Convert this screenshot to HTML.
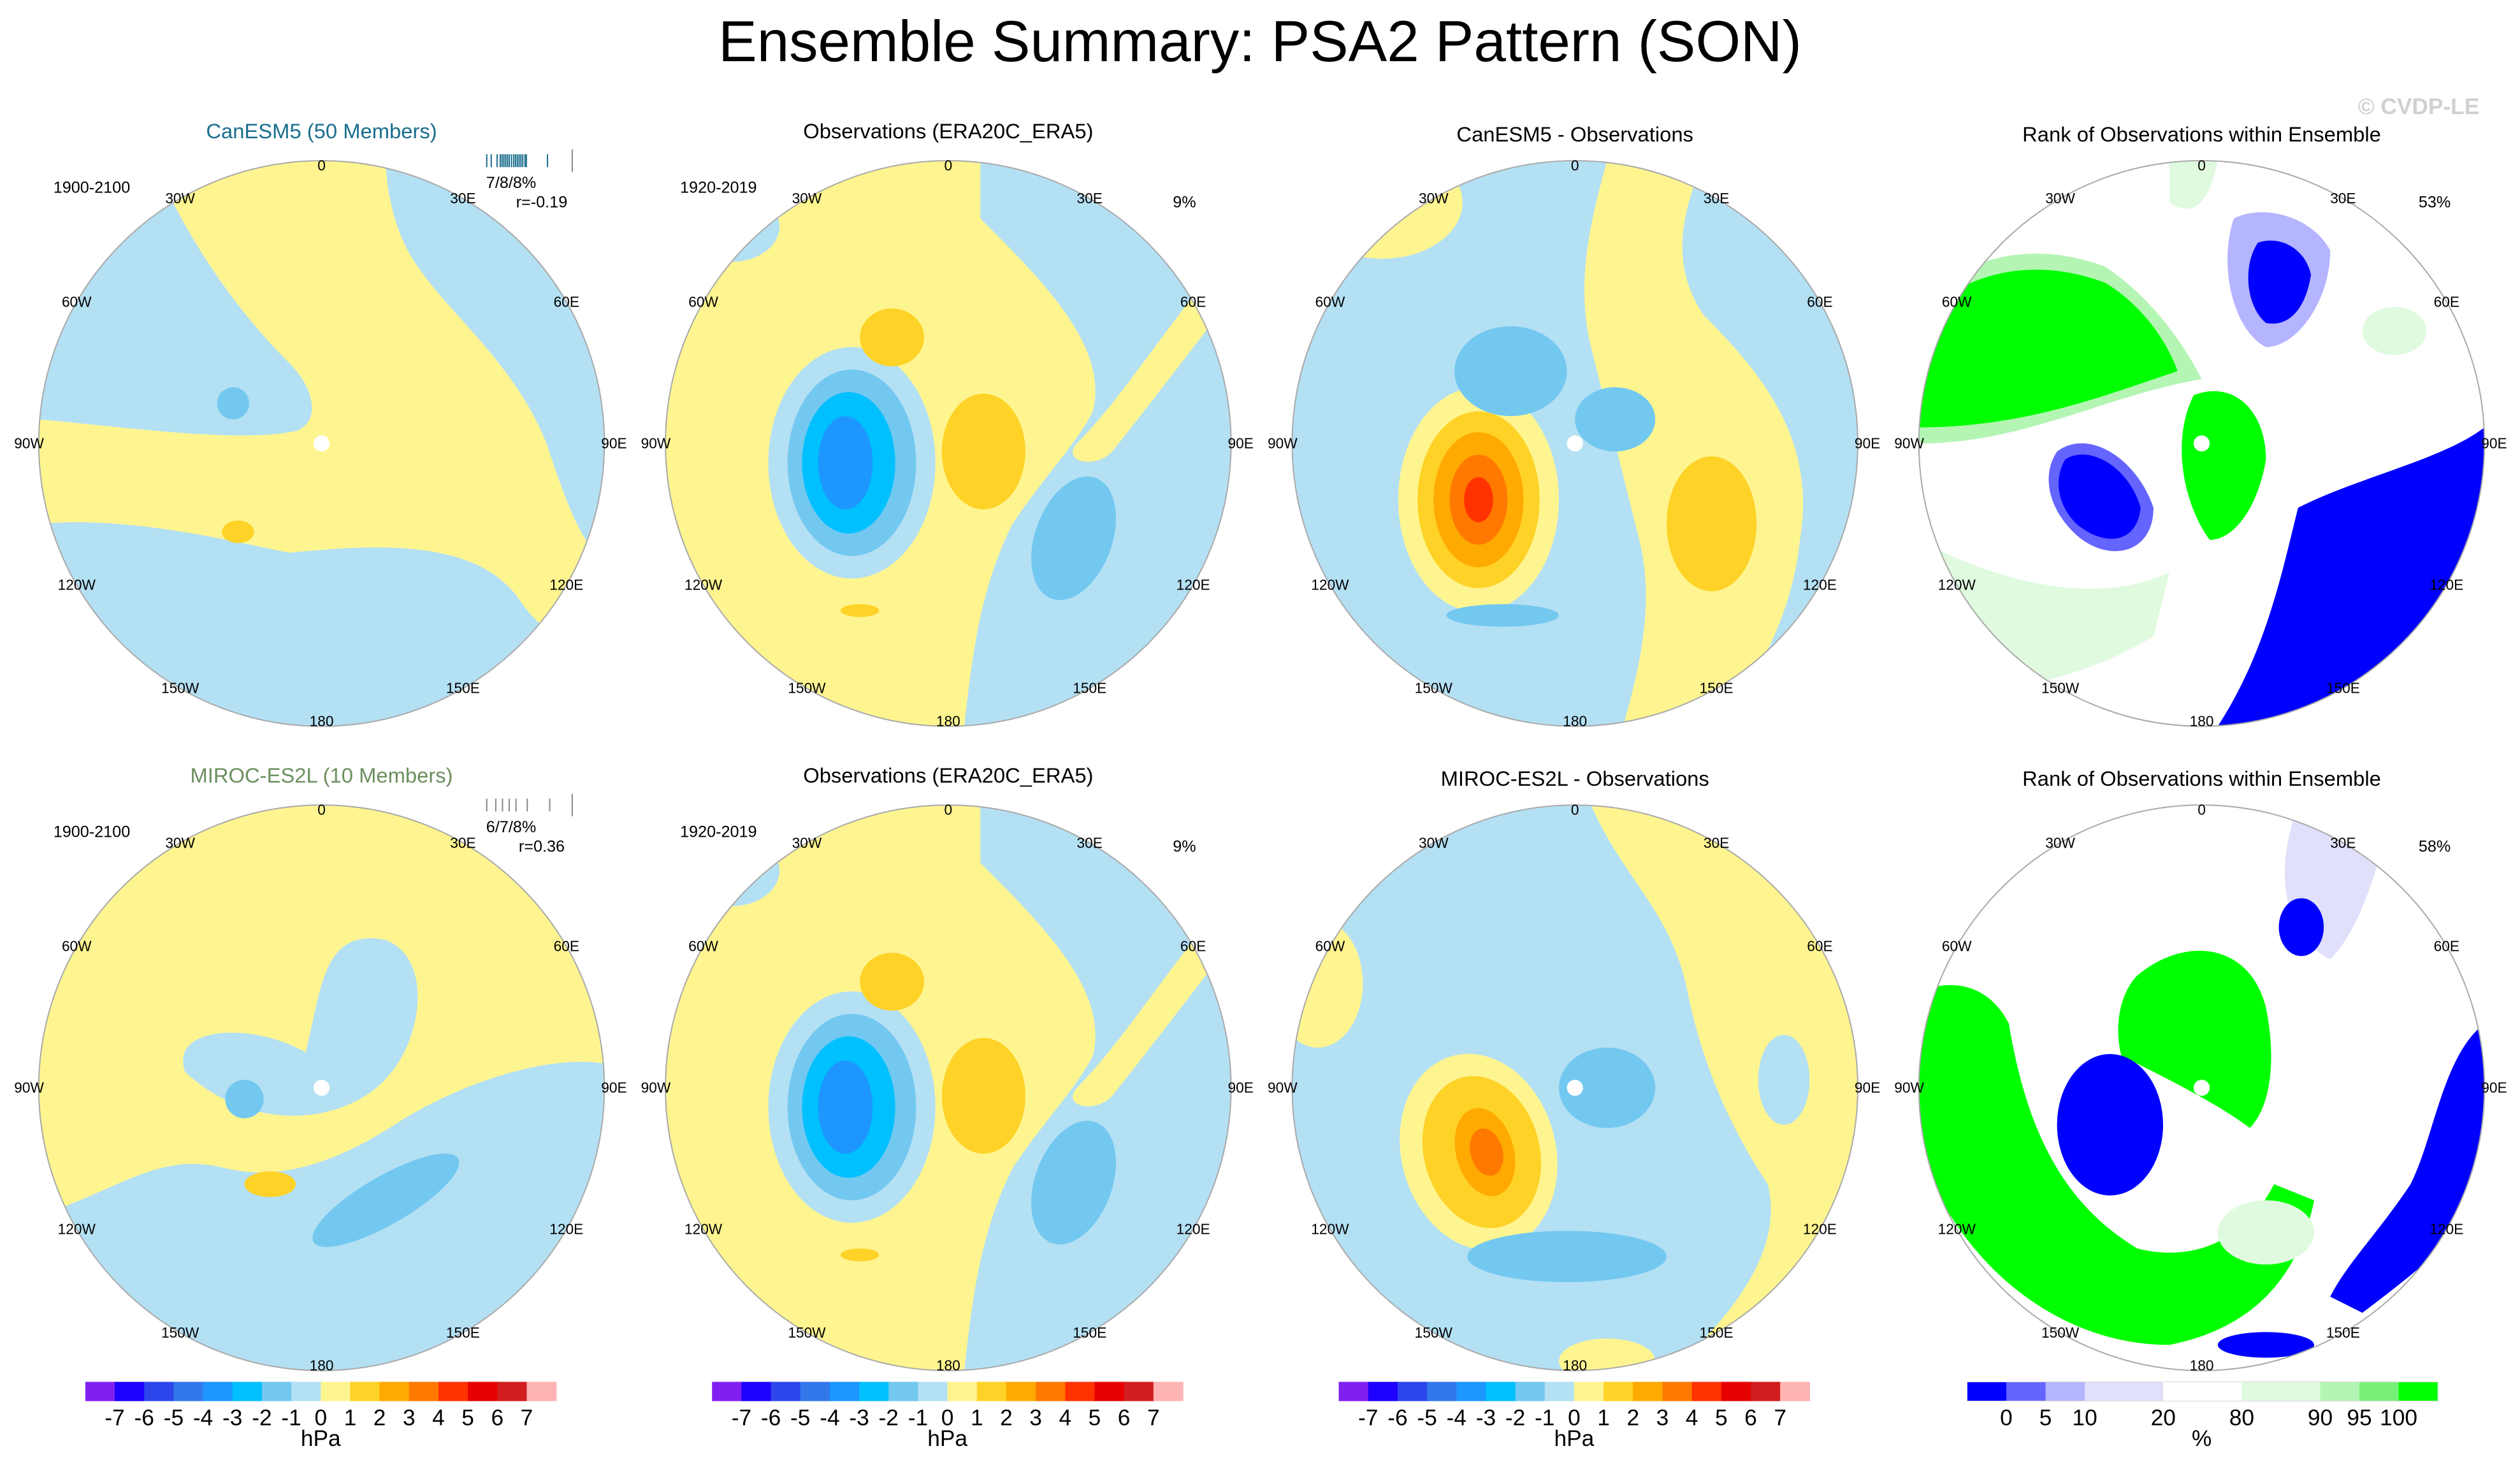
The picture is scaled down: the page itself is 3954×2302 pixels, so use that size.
<!DOCTYPE html>
<html><head><meta charset="utf-8"><style>
html,body{margin:0;padding:0;background:#fff}
svg{display:block;font-family:"Liberation Sans",sans-serif}
</style></head><body>
<svg id="fig" width="3954" height="2302" viewBox="0 0 1568 913" xmlns="http://www.w3.org/2000/svg">
<defs>
<clipPath id="cc"><circle cx="0" cy="0" r="176"/></clipPath>
</defs>
<rect width="1568" height="913" fill="#fff"/>
<text x="784" y="38" font-size="36" text-anchor="middle">Ensemble Summary: PSA2 Pattern (SON)</text>
<text x="1505" y="71" font-size="14" fill="#d0d0d0" text-anchor="middle" font-weight="bold">© CVDP-LE</text>

<!-- Panel 1 CanESM5 -->
<g transform="translate(200,276)">
<g clip-path="url(#cc)">
<rect x="-176" y="-176" width="352" height="352" fill="#fff590"/>
<path fill="#b4e0f4" d="M-176,-176 H-105 C-80,-120 -50,-80 -20,-50 C-5,-35 0,-15 -15,-8 C-50,0 -120,-10 -176,-15 Z"/>
<path fill="#b4e0f4" d="M40,-176 H176 V75 C160,60 150,30 140,0 C120,-50 80,-80 60,-110 C45,-130 40,-160 40,-176 Z"/>
<path fill="#b4e0f4" d="M-176,50 C-120,45 -60,60 -20,68 C40,62 100,60 125,100 C140,120 150,125 176,95 V176 H-176 Z"/>
<ellipse cx="-55" cy="-25" rx="10" ry="10" fill="#73c8f0"/>
<ellipse cx="-52" cy="55" rx="10" ry="7" fill="#ffd228"/>
</g>
<circle r="176" fill="none" stroke="#aaa" stroke-width="0.8"/>
<circle r="5" fill="#fff"/>
</g>

<!-- Panel 2 obs -->
<g transform="translate(590,276)">
<g clip-path="url(#cc)" id="obs1">
<rect x="-176" y="-176" width="352" height="352" fill="#fff590"/>
<path fill="#b4e0f4" d="M20,-176 H176 V176 H10 C15,130 20,90 40,50 C60,20 80,0 90,-20 C100,-60 60,-100 20,-140 Z"/>
<path fill="#fff590" d="M176,-120 C140,-80 110,-30 80,0 C70,12 92,16 102,5 C130,-30 160,-70 176,-90 Z"/>
<ellipse cx="-135" cy="-135" rx="30" ry="22" fill="#b4e0f4"/>
<ellipse cx="-60" cy="12" rx="52" ry="72" fill="#b4e0f4"/>
<ellipse cx="-60" cy="12" rx="40" ry="58" fill="#73c8f0"/>
<ellipse cx="-62" cy="12" rx="29" ry="44" fill="#00c0ff"/>
<ellipse cx="-64" cy="12" rx="17" ry="29" fill="#1e96ff"/>
<ellipse cx="-35" cy="-66" rx="20" ry="18" fill="#ffd228"/>
<ellipse cx="22" cy="5" rx="26" ry="36" fill="#ffd228"/>
<ellipse cx="-55" cy="104" rx="12" ry="4" fill="#ffd228"/>
<ellipse cx="78" cy="59" rx="24" ry="40" transform="rotate(20 78 59)" fill="#73c8f0"/>
</g>
<circle r="176" fill="none" stroke="#aaa" stroke-width="0.8"/>
</g>

<!-- Panel 3 diff -->
<g transform="translate(980,276)">
<g clip-path="url(#cc)">
<rect x="-176" y="-176" width="352" height="352" fill="#b4e0f4"/>
<ellipse cx="-120" cy="-150" rx="50" ry="35" fill="#fff590"/>
<path fill="#fff590" d="M20,-176 H80 C65,-140 60,-110 80,-80 C120,-40 150,0 140,60 C135,110 110,150 90,176 H30 C40,140 50,100 40,60 C30,20 20,-20 10,-60 C0,-100 10,-140 20,-176 Z"/>
<ellipse cx="-60" cy="35" rx="50" ry="70" fill="#fff590"/>
<ellipse cx="-60" cy="35" rx="38" ry="55" fill="#ffd228"/>
<ellipse cx="-60" cy="35" rx="28" ry="42" fill="#ffaa00"/>
<ellipse cx="-60" cy="35" rx="18" ry="28" fill="#ff7800"/>
<ellipse cx="-60" cy="35" rx="9" ry="14" fill="#ff3200"/>
<ellipse cx="-40" cy="-45" rx="35" ry="28" fill="#73c8f0"/>
<ellipse cx="25" cy="-15" rx="25" ry="20" fill="#73c8f0"/>
<ellipse cx="-45" cy="107" rx="35" ry="7" fill="#73c8f0"/>
<ellipse cx="85" cy="50" rx="28" ry="42" fill="#ffd228"/>
</g>
<circle r="176" fill="none" stroke="#aaa" stroke-width="0.8"/>
<circle r="5" fill="#fff"/>
</g>

<!-- Panel 4 rank -->
<g transform="translate(1370,276)">
<g clip-path="url(#cc)">
<rect x="-176" y="-176" width="352" height="352" fill="#fff"/>
<path fill="#b4f5b4" d="M-176,-90 C-140,-120 -100,-125 -60,-110 C-30,-90 -10,-60 0,-40 C-60,-30 -110,0 -176,0 Z"/>
<path fill="#00ff00" d="M-176,-80 C-140,-110 -100,-115 -60,-100 C-35,-85 -20,-60 -15,-45 C-60,-30 -110,-10 -176,-10 Z"/>
<path fill="#00ff00" d="M-5,-30 C20,-40 40,-20 40,10 C35,40 20,60 5,60 C-10,40 -20,0 -5,-30 Z"/>
<path fill="#e0fae0" d="M-176,60 C-120,90 -60,100 -20,80 L-30,120 C-80,150 -140,160 -176,150 Z"/>
<path fill="#00ff00" d="M-176,90 C-150,120 -120,140 -100,155 L-110,176 H-176 Z"/>
<path fill="#6464ff" d="M-90,5 C-70,-10 -40,10 -30,40 C-30,70 -60,75 -80,55 C-95,40 -100,20 -90,5 Z"/>
<path fill="#0000ff" d="M-85,10 C-70,0 -45,15 -38,40 C-40,62 -60,65 -78,50 C-90,38 -92,22 -85,10 Z"/>
<path fill="#b4b4ff" d="M20,-140 C40,-150 70,-140 80,-120 C80,-90 60,-60 40,-60 C20,-70 10,-110 20,-140 Z"/>
<path fill="#0000ff" d="M35,-125 C50,-130 65,-120 68,-105 C65,-85 55,-72 40,-75 C28,-85 25,-110 35,-125 Z"/>
<path fill="#0000ff" d="M176,-10 C150,10 100,20 60,40 C50,80 40,130 10,176 H176 Z"/>
<path fill="#e0fae0" d="M-20,-176 H10 C5,-150 -5,-140 -20,-150 Z"/>
<ellipse cx="120" cy="-70" rx="20" ry="15" fill="#e0fae0"/>
</g>
<circle r="176" fill="none" stroke="#aaa" stroke-width="0.8"/>
<circle r="5" fill="#fff"/>
</g>

<!-- Panel 5 MIROC -->
<g transform="translate(200,677)">
<g clip-path="url(#cc)">
<rect x="-176" y="-176" width="352" height="352" fill="#fff590"/>
<path fill="#b4e0f4" d="M-176,80 C-120,60 -100,40 -60,50 C-20,60 20,40 50,20 C100,-10 150,-20 176,-15 V176 H-176 Z"/>
<path fill="#b4e0f4" d="M-85,-10 C-95,-40 -40,-40 -10,-22 C0,-60 0,-100 40,-92 C70,-80 62,-30 42,-8 C20,20 -40,32 -85,-10 Z"/>
<circle cx="-48" cy="7" r="12" fill="#73c8f0"/>
<ellipse cx="40" cy="70" rx="52" ry="15" transform="rotate(-30 40 70)" fill="#73c8f0"/>
<ellipse cx="-32" cy="60" rx="16" ry="8" fill="#ffd228"/>
</g>
<circle r="176" fill="none" stroke="#aaa" stroke-width="0.8"/>
<circle r="5" fill="#fff"/>
</g>

<!-- Panel 6 obs -->
<g transform="translate(590,677)">
<use href="#obs1"/>
<circle r="176" fill="none" stroke="#aaa" stroke-width="0.8"/>
</g>

<!-- Panel 7 diff -->
<g transform="translate(980,677)">
<g clip-path="url(#cc)">
<rect x="-176" y="-176" width="352" height="352" fill="#b4e0f4"/>
<path fill="#fff590" d="M10,-176 H176 V176 H60 C100,140 130,100 120,60 C100,30 80,-10 70,-60 C60,-110 30,-130 10,-176 Z"/>
<ellipse cx="-160" cy="-65" rx="28" ry="40" fill="#fff590"/>
<ellipse cx="130" cy="-5" rx="16" ry="28" fill="#b4e0f4"/>
<ellipse cx="20" cy="170" rx="30" ry="14" fill="#fff590"/>
<ellipse cx="-60" cy="40" rx="48" ry="62" transform="rotate(-15 -60 40)" fill="#fff590"/>
<ellipse cx="-58" cy="40" rx="36" ry="48" transform="rotate(-15 -58 40)" fill="#ffd228"/>
<ellipse cx="-56" cy="40" rx="18" ry="28" transform="rotate(-15 -56 40)" fill="#ffaa00"/>
<ellipse cx="-55" cy="40" rx="10" ry="15" transform="rotate(-15 -55 40)" fill="#ff7800"/>
<ellipse cx="20" cy="0" rx="30" ry="25" fill="#73c8f0"/>
<ellipse cx="-5" cy="105" rx="62" ry="16" fill="#73c8f0"/>
</g>
<circle r="176" fill="none" stroke="#aaa" stroke-width="0.8"/>
<circle r="5" fill="#fff"/>
</g>

<!-- Panel 8 rank -->
<g transform="translate(1370,677)">
<g clip-path="url(#cc)">
<rect x="-176" y="-176" width="352" height="352" fill="#fff"/>
<path fill="#00ff00" d="M-176,-60 C-150,-70 -130,-60 -120,-40 C-110,20 -90,70 -40,100 C0,110 30,90 45,60 L70,70 C60,120 30,150 -20,160 C-90,160 -150,110 -176,40 Z"/>
<path fill="#00ff00" d="M-40,-70 C-10,-95 30,-90 40,-50 C48,-10 40,15 30,25 C10,10 -20,-5 -50,-20 C-55,-40 -50,-60 -40,-70 Z"/>
<ellipse cx="-57" cy="23" rx="33" ry="44" fill="#0000ff"/>
<path fill="#e0e0fa" d="M60,-176 H120 C110,-140 100,-100 80,-80 C60,-90 40,-120 60,-176 Z"/>
<ellipse cx="62" cy="-100" rx="14" ry="18" fill="#0000ff"/>
<path fill="#0000ff" d="M176,-40 C150,-20 145,30 130,60 C110,90 90,110 80,130 L100,140 C140,110 176,80 176,60 Z"/>
<ellipse cx="40" cy="160" rx="30" ry="8" fill="#0000ff"/>
<ellipse cx="40" cy="90" rx="30" ry="20" fill="#e0fae0"/>
</g>
<circle r="176" fill="none" stroke="#aaa" stroke-width="0.8"/>
<circle r="5" fill="#fff"/>
</g>

<g id="texts" font-size="10" fill="#000">
<text x="200" y="86" font-size="13" fill="#1a6e8e" text-anchor="middle">CanESM5 (50 Members)</text>
<text x="590" y="86" font-size="13" text-anchor="middle">Observations (ERA20C_ERA5)</text>
<text x="980" y="88" font-size="13" text-anchor="middle">CanESM5 - Observations</text>
<text x="1370" y="88" font-size="13" text-anchor="middle">Rank of Observations within Ensemble</text>
<text x="200" y="487" font-size="13" fill="#6b8f5e" text-anchor="middle">MIROC-ES2L (10 Members)</text>
<text x="590" y="487" font-size="13" text-anchor="middle">Observations (ERA20C_ERA5)</text>
<text x="980" y="489" font-size="13" text-anchor="middle">MIROC-ES2L - Observations</text>
<text x="1370" y="489" font-size="13" text-anchor="middle">Rank of Observations within Ensemble</text>
<text x="57" y="120" text-anchor="middle">1900-2100</text>
<text x="447" y="120" text-anchor="middle">1920-2019</text>
<text x="57" y="521" text-anchor="middle">1900-2100</text>
<text x="447" y="521" text-anchor="middle">1920-2019</text>
<text x="318" y="117" text-anchor="middle">7/8/8%</text>
<text x="337" y="129" text-anchor="middle">r=-0.19</text>
<text x="318" y="518" text-anchor="middle">6/7/8%</text>
<text x="337" y="530" text-anchor="middle">r=0.36</text>
<text x="737" y="129" text-anchor="middle">9%</text>
<text x="737" y="530" text-anchor="middle">9%</text>
<text x="1515" y="129" text-anchor="middle">53%</text>
<text x="1515" y="530" text-anchor="middle">58%</text>
</g>
<g id="spreads"></g>
<g id="lonlabels" font-size="9"></g>
<g id="colorbars"></g>
</svg>
<script>
const NS='http://www.w3.org/2000/svg';
const hpaLevels=[-7,-6,-5,-4,-3,-2,-1,0,1,2,3,4,5,6,7];
const hpaColors=['#8020f0','#1e00ff','#2d46eb','#3278eb','#1e96ff','#00c0ff','#73c8f0','#b4e0f4','#fff590','#ffd228','#ffaa00','#ff7800','#ff3200','#e60000','#d21e1e','#ffb4b4'];
const rankLevels=[0,5,10,20,80,90,95,100];
const rankUnits=[1,1,1,2,2,2,1,1,1];
const rankColors=['#0000ff','#6464ff','#b4b4ff','#e0e0fa','#ffffff','#e0fae0','#b4f5b4','#78f078','#00ff00'];
const lonNames=['0','30E','60E','90E','120E','150E','180','150W','120W','90W','60W','30W'];
const centersX=[200,590,980,1370];
const centersY=[276,677];
const spread1=[0.1,0.2,0.33,0.4,0.44,0.48,0.52,0.56,0.6,0.65,0.7,0.74,0.78,0.82,0.86,0.9,0.95,0.98,1.45];
const spread2=[0.1,0.3,0.45,0.6,0.75,1.0,1.5];
function mk(tag,attrs,parent){const e=document.createElementNS(NS,tag);for(const k in attrs)e.setAttribute(k,attrs[k]);parent.appendChild(e);return e;}
const ll=document.getElementById('lonlabels');
centersY.forEach(cy=>centersX.forEach(cx=>{
  lonNames.forEach((n,i)=>{
    const a=i*30*Math.PI/180, r=i%3===0?(i%6===0?173:182):176;
    const t=mk('text',{x:(cx+Math.sin(a)*(i%6===0?0:r)).toFixed(1),y:(cy-Math.cos(a)*(i%6===0?173:176)+3).toFixed(1),'text-anchor':'middle'},ll);
    
    
    t.textContent=n;
  });
}));
const sp=document.getElementById('spreads');
[[spread1,96,'#1a6e8e'],[spread2,497,'#888']].forEach(([arr,y,c])=>{
  arr.forEach(v=>{const x=300+v*28;const l=mk('line',{x1:x,x2:x,y1:y,y2:y+8,stroke:c,'stroke-width':0.8},sp);
    
    });
  mk('line',{x1:356,x2:356,y1:y-3,y2:y+11,stroke:'#888','stroke-width':0.8},sp);
});
const cb=document.getElementById('colorbars');
[53,443,833].forEach(x0=>{
  const w=(346-53)/hpaColors.length;
  hpaColors.forEach((c,i)=>{const r=mk('rect',{x:x0+i*w,y:860,width:w+0.3,height:12,fill:c},cb);
    
    });
  hpaLevels.forEach((v,i)=>{const t=mk('text',{x:x0+(i+1)*w,y:887,'font-size':14,'text-anchor':'middle'},cb);
    
    
    t.textContent=v;});
  const u=mk('text',{x:x0+146.5,y:900,'font-size':14,'text-anchor':'middle'},cb);
  
  
  u.textContent='hPa';
});
{
  const x0=1224,tot=rankUnits.reduce((a,b)=>a+b,0),uw=293/tot;let x=x0;
  rankColors.forEach((c,i)=>{const w=rankUnits[i]*uw;const r=mk('rect',{x:x,y:860,width:w+0.3,height:12,fill:c},cb);
    
    
    x+=w;
    if(i<rankLevels.length){const t=mk('text',{x:x,y:887,'font-size':14,'text-anchor':'middle'},cb);
      
      
      t.textContent=rankLevels[i];}
  });
  mk('rect',{x:x0,y:860,width:293,height:12,fill:'none',stroke:'#ddd','stroke-width':0.5},cb);
  const u=mk('text',{x:1370,y:900,'font-size':14,'text-anchor':'middle'},cb);
  
  
  u.textContent='%';
}
</script>
</body></html>
